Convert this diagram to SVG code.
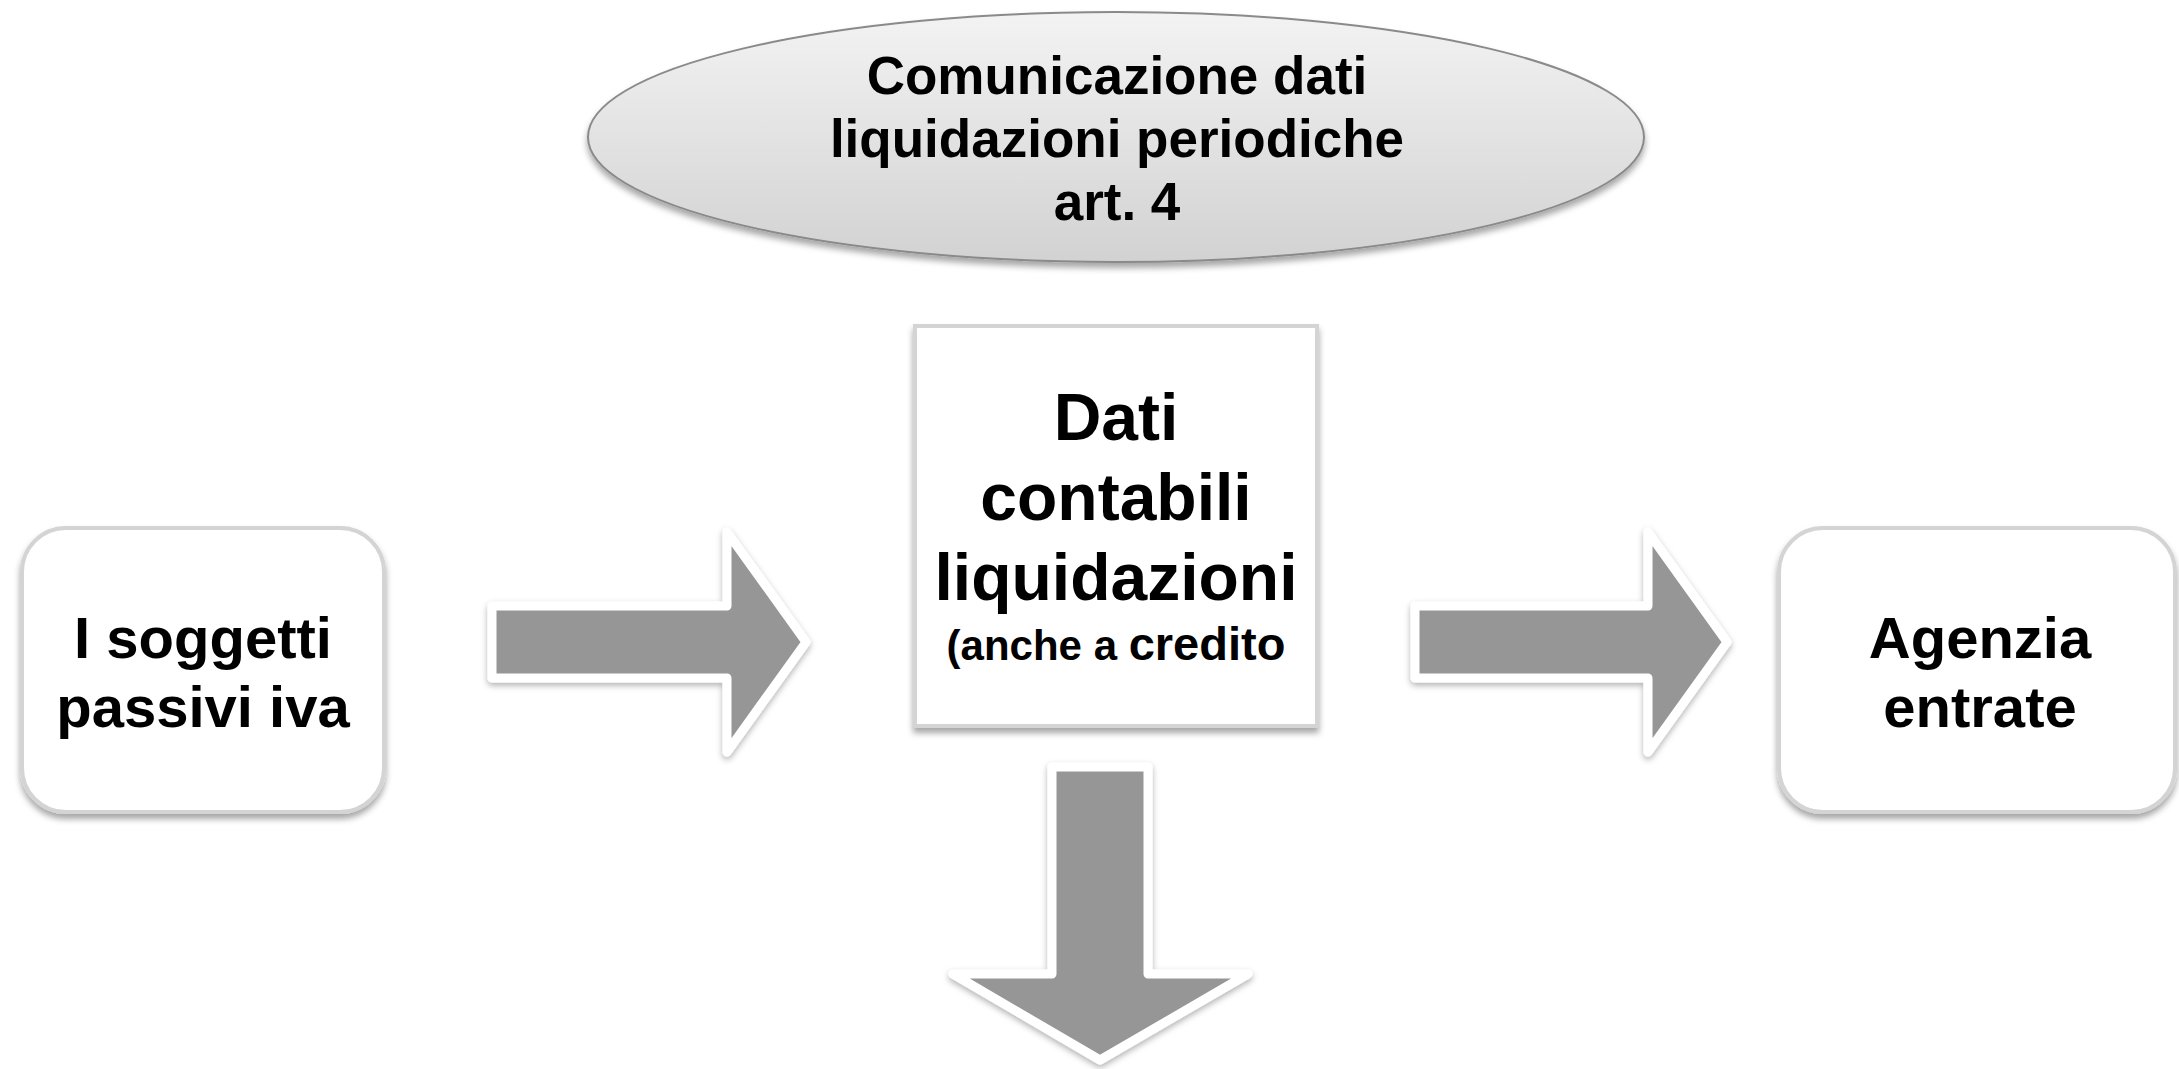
<svg xmlns="http://www.w3.org/2000/svg" width="2179" height="1069" viewBox="0 0 2179 1069">
<defs>
<linearGradient id="ellGrad" x1="0" y1="0" x2="0" y2="1">
<stop offset="0" stop-color="#f3f3f3"/>
<stop offset="1" stop-color="#d2d2d2"/>
</linearGradient>
<filter id="shadow" x="-10%" y="-10%" width="120%" height="125%">
<feDropShadow dx="0" dy="5" stdDeviation="3" flood-color="#000" flood-opacity="0.35"/>
</filter>
<filter id="ashadow" x="-10%" y="-10%" width="120%" height="125%">
<feDropShadow dx="0" dy="3" stdDeviation="3" flood-color="#000" flood-opacity="0.3"/>
</filter>
</defs>
<style>
text { font-family: "Liberation Sans", Arial, Helvetica, sans-serif; font-weight: bold; fill: #000; text-anchor: middle; }
.box { fill: #ffffff; stroke: #d4d4d4; stroke-width: 4; filter: url(#shadow); }
.arrow { fill: #969696; stroke: #ffffff; stroke-width: 9; stroke-linejoin: round; filter: url(#ashadow); }
.t53 { font-size: 53px; }
.t58 { font-size: 58px; }
.t66 { font-size: 66px; }
</style>
<rect width="2179" height="1069" fill="#ffffff"/>

<g id="node-title">
<ellipse cx="1116" cy="137" rx="528" ry="125" fill="url(#ellGrad)" stroke="#8a8a8a" stroke-width="2" filter="url(#shadow)"/>
<text class="t53" x="1117" y="94">Comunicazione dati</text>
<text class="t53" x="1117" y="157">liquidazioni periodiche</text>
<text class="t53" x="1117" y="220">art. 4</text>
</g>

<g id="node-soggetti">
<rect class="box" x="22" y="528" width="362" height="284" rx="44" ry="44"/>
<text class="t58" x="203" y="658">I soggetti</text>
<text class="t58" x="203" y="727">passivi iva</text>
</g>

<g id="node-dati">
<rect class="box" x="915" y="326" width="402" height="400"/>
<text class="t66" x="1116" y="440">Dati</text>
<text class="t66" x="1116" y="520">contabili</text>
<text class="t66" x="1116" y="600">liquidazioni</text>
<text x="1116" y="660"><tspan font-size="42px">(anche a </tspan><tspan font-size="47px">credito</tspan></text>
</g>

<g id="node-agenzia">
<rect class="box" x="1779" y="528" width="396" height="284" rx="44" ry="44"/>
<text class="t58" x="1980" y="658">Agenzia</text>
<text class="t58" x="1980" y="727">entrate</text>
</g>

<g id="connectors">
<polygon class="arrow" points="492,606 727,606 727,532 806,642 727,752 727,678 492,678"/>
<polygon class="arrow" points="1415,606 1648,606 1648,532 1727,642 1648,752 1648,678 1415,678"/>
<polygon class="arrow" points="1052,767 1148,767 1148,974 1248,974 1100,1060 953,974 1052,974"/>
</g>
</svg>
